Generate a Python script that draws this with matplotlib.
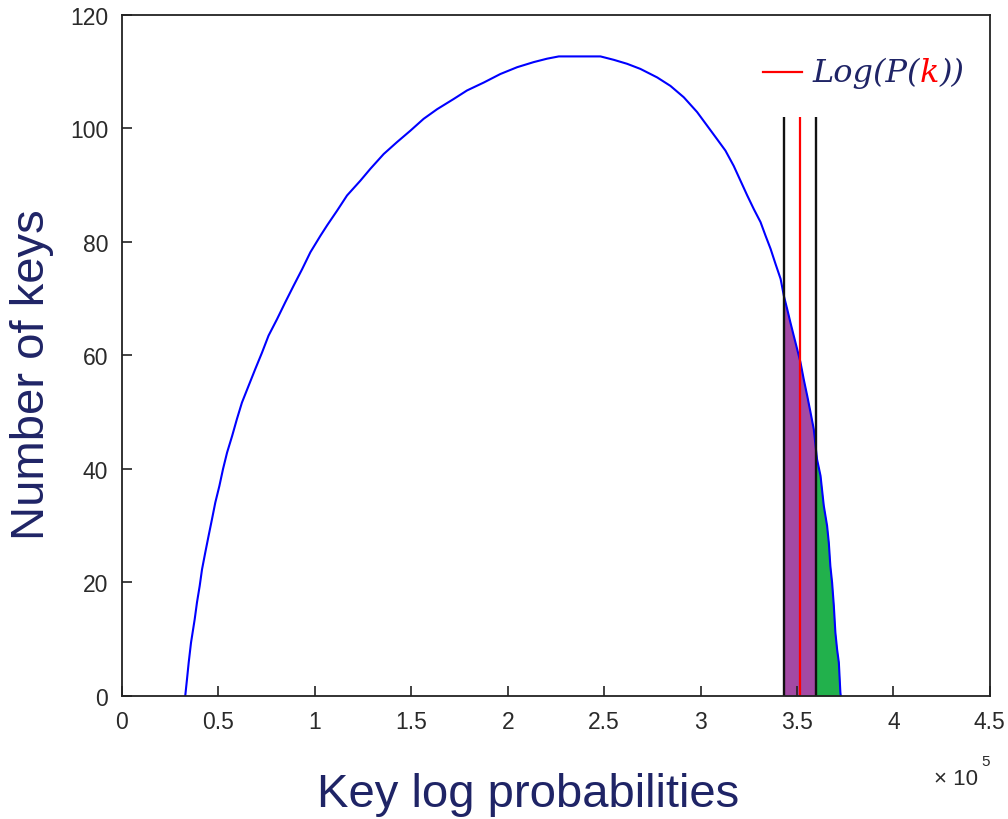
import matplotlib.pyplot as plt
import numpy as np
from matplotlib.ticker import FuncFormatter

# key log probability (in units of 1e5) vs number of keys
key_logp = np.array([
    0.328, 0.337, 0.346, 0.358, 0.377, 0.389, 0.403, 0.415, 0.432, 0.449,
    0.467, 0.484, 0.505, 0.524, 0.545, 0.571, 0.596, 0.622, 0.657, 0.691,
    0.726, 0.760, 0.804, 0.847, 0.890, 0.934, 0.977, 1.029, 1.065, 1.115,
    1.167, 1.236, 1.288, 1.357, 1.426, 1.495, 1.564, 1.634, 1.720, 1.789,
    1.876, 1.962, 2.049, 2.135, 2.204, 2.265, 2.481, 2.550, 2.619, 2.688,
    2.775, 2.844, 2.913, 2.982, 3.034, 3.086, 3.129, 3.172, 3.207, 3.242,
    3.276, 3.311, 3.337, 3.363, 3.389, 3.415, 3.432, 3.449, 3.466, 3.483,
    3.501, 3.518, 3.535, 3.553, 3.570, 3.587, 3.604, 3.622, 3.639, 3.656,
    3.665, 3.673, 3.682, 3.691, 3.699, 3.708, 3.717, 3.725, 3.727,
])
n_keys = np.array([
    0.0, 2.9, 5.9, 9.4, 13.5, 16.5, 19.4, 22.3, 25.3, 28.2,
    31.2, 34.1, 37.0, 40.0, 42.9, 45.8, 48.8, 51.7, 54.7, 57.6,
    60.5, 63.5, 66.4, 69.4, 72.3, 75.2, 78.2, 81.1, 83.0, 85.5,
    88.2, 90.8, 92.9, 95.5, 97.6, 99.6, 101.7, 103.4, 105.2, 106.7,
    108.1, 109.6, 110.8, 111.7, 112.3, 112.7, 112.7, 112.1, 111.4, 110.5,
    109.0, 107.5, 105.5, 102.9, 100.5, 98.1, 96.1, 93.4, 90.8, 88.2,
    85.8, 83.5, 81.1, 78.8, 76.1, 73.5, 70.5, 68.2, 65.8, 63.5,
    61.1, 58.8, 55.8, 52.9, 50.0, 47.0, 41.7, 38.8, 33.5, 30.0,
    27.0, 22.9, 20.0, 15.9, 11.2, 8.2, 5.9, 0.6, 0.0,
])

# bounds around the correct key's rank (x 1e5)
lower_bound = 3.435
upper_bound = 3.601
correct_key = 3.518
line_top = 102

navy = '#1f2466'
purple = '#a349a4'
green = '#22b14c'
tick_col = '#2a2a2a'

fig = plt.figure(figsize=(10.08, 8.2), dpi=100)
ax = fig.add_axes([0.121, 0.150, 0.861, 0.8305])


def band(x0, x1):
    m = (key_logp > x0) & (key_logp < x1)
    xs = np.concatenate([[x0], key_logp[m], [x1]])
    ys = np.interp(xs, key_logp, n_keys)
    return xs, ys


xs, ys = band(lower_bound, upper_bound)
ax.fill_between(xs, 0, ys, color=purple, linewidth=0)
xs, ys = band(upper_bound, key_logp[-1])
ax.fill_between(xs, 0, ys, color=green, linewidth=0)

ax.plot(key_logp, n_keys, color='#0000ff', linewidth=1.5)
ax.vlines([lower_bound, upper_bound], 0, line_top, color='#111111', linewidth=1.7)
ax.vlines(correct_key, 0, line_top, color='#ff0000', linewidth=1.6)

ax.set_xlim(0, 4.5)
ax.set_ylim(0, 120)
ax.set_xticks(np.arange(0, 4.51, 0.5))
ax.set_yticks(np.arange(0, 121, 20))
ax.xaxis.set_major_formatter(FuncFormatter(lambda v, p: '%g' % v))
ax.tick_params(direction='in', length=7, width=1.2, color='#222222',
               labelsize=16.5, labelcolor=tick_col, pad=10)
for lab in ax.get_xticklabels() + ax.get_yticklabels():
    lab.set_family('Liberation Sans')
for s in ax.spines.values():
    s.set_color('#222222')
    s.set_linewidth(1.3)

# axis titles
fig.text(0.524, 0.0305, 'Key log probabilities', fontsize=34, color=navy,
         family='Liberation Sans', ha='center', va='center')
fig.text(0.032, 0.543, 'Number of keys', fontsize=34, color=navy,
         family='Liberation Sans', ha='center', va='center', rotation=90)

fig.text(0.970, 0.049, '\u00d7 10', fontsize=16, color=tick_col,
         family='Liberation Sans', ha='right', va='center')
fig.text(0.978, 0.071, '5', fontsize=11, color=tick_col,
         family='Liberation Sans', ha='center', va='center')

# legend entry for the correct key
fig.add_artist(plt.Line2D([0.757, 0.796], [0.911, 0.911], color='#ff0000',
                          linewidth=1.6))
serif = dict(family='DejaVu Serif', style='italic', fontsize=23, color=navy)
t1 = fig.text(0.806, 0.911, 'Log(P(', va='center', **serif)
t2 = ax.annotate('k', xy=(1, 0), xycoords=t1, va='bottom',
                 **{**serif, 'color': '#ff0000'})
ax.annotate('))', xy=(1, 0), xycoords=t2, va='bottom', **serif)

fig.savefig('out.png', dpi=100, facecolor='white')
